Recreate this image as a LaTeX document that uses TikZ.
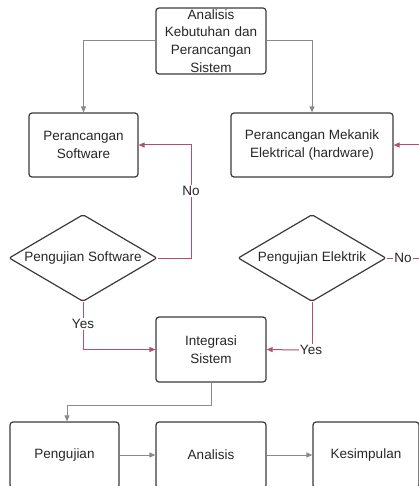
\documentclass[tikz,border=0pt]{standalone}
\usepackage{fontspec}
\setmainfont{Liberation Sans}
\usetikzlibrary{shapes.geometric,arrows.meta}
\definecolor{boxline}{HTML}{3A3A3A}
\definecolor{grayarrow}{HTML}{8A8A8A}
\definecolor{loopcol}{HTML}{B0506F}
\tikzset{
  every node/.style={font=\fontsize{13.5}{17.7}\selectfont, text=black!85},
  procbox/.style={draw=boxline, line width=1.2pt, rounded corners=3pt, align=center, inner sep=0pt},
  decbox/.style={draw=boxline, line width=1.2pt, diamond, aspect=1.7, inner sep=0pt, minimum width=148pt, minimum height=87pt, rounded corners=2pt},
  grayflow/.style={draw=grayarrow, line width=1pt, -{Triangle[length=6pt,width=5pt]}},
  loopflow/.style={draw=loopcol, line width=1pt},
  looparrow/.style={loopflow, -{Triangle[length=6pt,width=5pt]}},
  lbl/.style={fill=white, inner sep=1pt}
}
\begin{document}
\begin{tikzpicture}[x=1pt,y=-1pt]
\useasboundingbox (0,0) rectangle (419,486);
\clip (0,0) rectangle (419,486);
% process boxes
\node[procbox, minimum width=110pt, minimum height=66pt, text width=104pt] (top) at (211,41) {Analisis\\Kebutuhan dan\\Perancangan\\Sistem};
\node[procbox, minimum width=109pt, minimum height=64pt] (ps) at (83.5,145) {Perancangan\\Software};
\node[procbox, minimum width=162pt, minimum height=64pt] (pm) at (312,145) {Perancangan Mekanik\\Elektrical (hardware)};
\node[decbox] (d1) at (83,258) {Pengujian Software};
\node[decbox] (d2) at (312,258) {Pengujian Elektrik};
\node[procbox, minimum width=110pt, minimum height=65pt] (integ) at (211,349.5) {Integrasi\\Sistem};
\node[procbox, minimum width=109pt, minimum height=66pt] (peng) at (64.5,455) {Pengujian};
\node[procbox, minimum width=110pt, minimum height=66pt] (anal) at (211,455) {Analisis};
\node[procbox, minimum width=106pt, minimum height=66pt] (kes) at (366,455) {Kesimpulan};
% labels
\node[lbl] (nl) at (191,191) {No};
\node[lbl] (nr) at (403,258) {No};
\node[lbl] (yl) at (83,324) {Yes};
\node[lbl] (yr) at (311,350) {Yes};
\coordinate (c2) at (423,258);
% gray flow
\draw[grayflow] (top.west) -| (ps.north);
\draw[grayflow] (top.east) -| (pm.north);
\draw[grayflow] (integ.south) -- ++(0,23) -| ([xshift=2.5pt]peng.north);
\draw[grayflow] (peng.east |- 0,455) -- (anal.west |- 0,455);
\draw[grayflow] (anal.east |- 0,455) -- (kes.west |- 0,455);
% loops
\draw[loopflow] (d1.east) -| (nl.south);
\draw[looparrow] (nl.north) |- (ps.east);
\draw[loopflow] (d2.east) -- (nr.west);
\draw[looparrow] (nr.east) -- (c2) |- (pm.east);
\draw[loopflow] (d1.south) -- (yl.north);
\draw[looparrow] (yl.south) |- (integ.west);
\draw[loopflow] (d2.south) -- (yr.north -| d2.south);
\draw[looparrow] (yr.west) -- (integ.east);
\end{tikzpicture}
\end{document}
